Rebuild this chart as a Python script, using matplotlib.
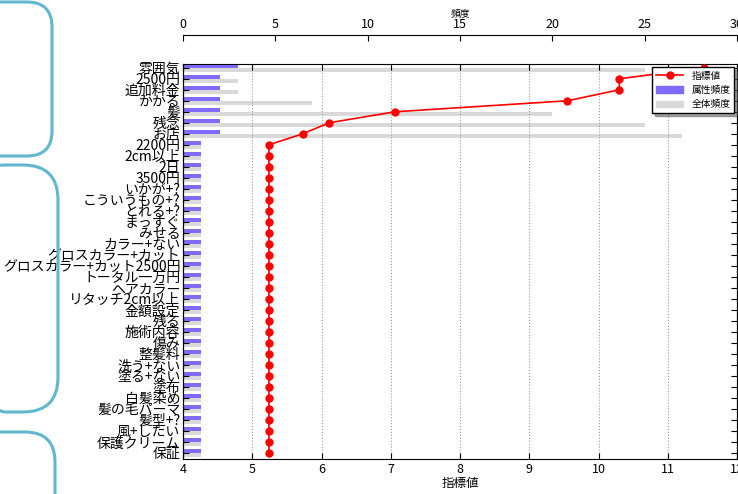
import matplotlib
matplotlib.use('Agg')
import matplotlib.pyplot as plt
from matplotlib.patches import FancyBboxPatch, Patch
from matplotlib.lines import Line2D

plt.rcParams['font.family'] = ['Noto Sans CJK JP', 'DejaVu Sans']

labels = ['雰囲気', '2500円', '追加料金', 'かかる', '髪', '残念', 'お店',
          '2200円', '2cm以上', '2日', '3500円', 'いかが+?', 'こういうもの+?',
          'とれる+?', 'まっすぐ', 'みせる', 'カラー+ない', 'グロスカラー+カット',
          'グロスカラー+カット2500円', 'トータル一万円', 'ヘアカラー', 'リタッチ2cm以上',
          '金額設定', '残る', '施術内容', '傷み', '整髪料', '洗う+ない', '塗る+ない',
          '塗布', '白髪染め', '髪の毛パーマ', '髪型+?', '風+したい', '保護クリーム', '保証']

index_vals = [11.52, 10.30, 10.30, 9.55, 7.06, 6.11, 5.73,
              5.24, 5.24, 5.24, 5.24, 5.24, 5.24, 5.24, 5.24, 5.24,
              5.24, 5.24, 5.24, 5.24, 5.24, 5.24, 5.24, 5.24, 5.24,
              5.24, 5.24, 5.24, 5.24, 5.24, 5.24, 5.24, 5.24, 5.24, 5.24, 5.24]

attr_freq = [3, 2, 2, 2, 2, 2, 2,
             1, 1, 1, 1, 1, 1, 1, 1, 1, 1, 1, 1, 1, 1, 1, 1, 1, 1,
             1, 1, 1, 1, 1, 1, 1, 1, 1, 1, 1]

total_freq = [25, 3, 3, 7, 20, 25, 27,
              1, 1, 1, 1, 1, 1, 1, 1, 1, 1, 1, 1, 1, 1, 1, 1, 1, 1,
              1, 1, 1, 1, 1, 1, 1, 1, 1, 1, 1]

purple = '#7f6bff'
grey = '#d9d9d9'
pos = list(range(len(labels)))

fig = plt.figure(figsize=(7.38, 4.94), dpi=100)
ax = fig.add_axes([0.248, 0.071, 0.7507, 0.7996])
ax2 = ax.twiny()

# frequency bars (top axis)
ax.barh([p - 0.19 for p in pos], attr_freq, height=0.36, color=purple, linewidth=0)
ax.barh([p + 0.19 for p in pos], total_freq, height=0.36, color=grey, linewidth=0)
ax.set_xlim(0, 30)
ax.set_ylim(35.55, -0.35)
ax.set_yticks(pos)
ax.set_yticklabels(labels, fontsize=10)
ax.tick_params(axis='y', direction='in', right=True, length=4, pad=2)
ax.xaxis.set_ticks_position('top')
ax.xaxis.set_label_position('top')
ax.spines['top'].set_position(('outward', 21))
ax.spines['bottom'].set_visible(False)
ax.tick_params(axis='x', direction='in', length=4, labelsize=9, pad=3,
               top=True, labeltop=True, bottom=False, labelbottom=False)
ax.set_xlabel('頻度', fontsize=7, labelpad=1)

# index line (bottom axis)
ax2.plot(index_vals, pos, '-o', color='red', lw=1.2, markersize=5, zorder=3)
ax2.set_xlim(4, 12)
ax2.xaxis.set_ticks_position('both')
ax2.xaxis.set_label_position('bottom')
ax2.tick_params(axis='x', direction='in', length=4, labelsize=9, pad=3,
                top=True, bottom=True, labeltop=False, labelbottom=True)
ax2.set_xlabel('指標値', fontsize=9, labelpad=1)
ax2.grid(axis='x', linestyle=':', color='#999999', linewidth=0.8)

handles = [Line2D([], [], color='red', marker='o', lw=1.2, markersize=5),
           Patch(color=purple), Patch(color=grey)]
leg = ax2.legend(handles, ['指標値', '属性頻度', '全体頻度'], loc='upper right',
                 fontsize=7, shadow=True, fancybox=False, framealpha=1,
                 borderaxespad=0.3, handlelength=2.8, labelspacing=0.45)
leg.get_frame().set_edgecolor('black')
leg.set_zorder(10)

# rounded boxes on the left
for x0, y0, w, h, r in [(-0.3, 3.38, 0.82, 1.54, 0.25),
                        (-0.3, 0.82, 0.88, 2.47, 0.35),
                        (-0.3, -1.06, 0.85, 1.68, 0.3)]:
    box = FancyBboxPatch((x0, y0), w, h, boxstyle='round,pad=0,rounding_size=%s' % r,
                         transform=fig.dpi_scale_trans, fill=False,
                         edgecolor='#62b7d0', linewidth=2.2, clip_on=False, zorder=20)
    fig.add_artist(box)

fig.savefig('out.png', dpi=100)
